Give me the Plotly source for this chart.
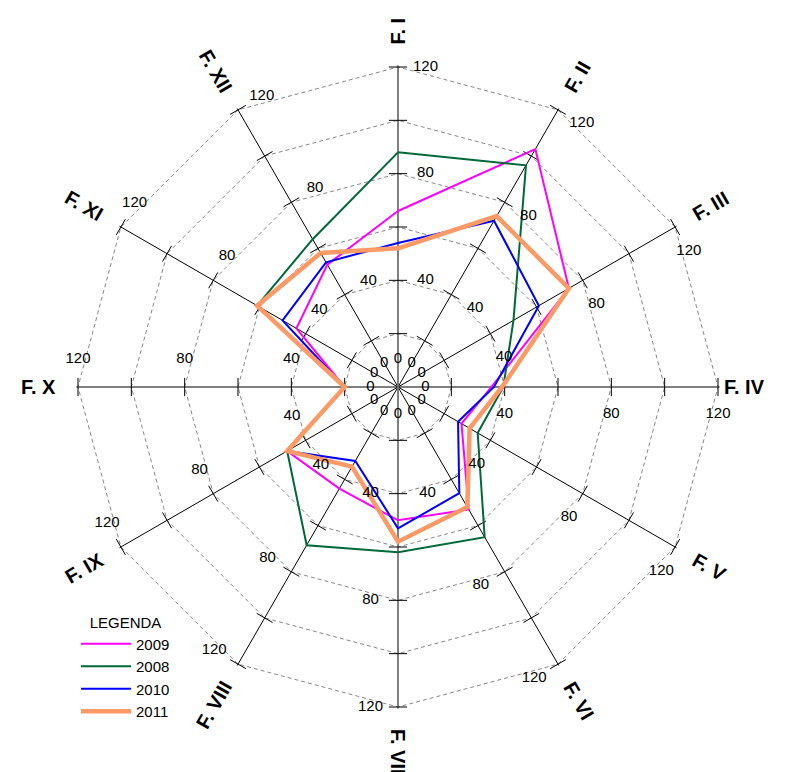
import math
import plotly.graph_objects as go

# Factors around the radar, clockwise from the top
categories = ['F. I', 'F. II', 'F. III', 'F. IV', 'F. V', 'F. VI',
              'F. VII', 'F. VIII', 'F. IX', 'F. X', 'F. XI', 'F. XII']
angles = [i * 360 / len(categories) for i in range(len(categories))]

values_2009 = [66, 103, 74, 35, 27.5, 53, 50, 44, 48, 20, 44, 53]
values_2008 = [88, 96, 50, 39.5, 34.5, 65, 62, 68.5, 48, 20, 61, 64]
values_2010 = [54, 72, 61, 36, 26, 46, 53, 32, 48, 20, 50, 54]
values_2011 = [52, 74, 74, 39, 31, 52, 58, 34.5, 48, 20, 61, 58]

tick_marks = [20, 40, 60, 80, 100, 120]
tick_labels = [0, 40, 80, 120]

R_MAX = 120
R_AXIS = 120.6  # a hair past 120 so the outer dashed ring is drawn
FONT = 'Liberation Sans, Arial, sans-serif'

series = [
    ('2009', values_2009, '#FF00FF', 2),
    ('2008', values_2008, '#00693A', 2),
    ('2010', values_2010, '#0000FF', 2),
    ('2011', values_2011, '#FF9966', 4.5),
]

# page geometry in figure pixels (page body adds an 8px offset)
W, H = 787, 772
cx, cy = 390, 379
rad_px = 320 * R_AXIS / R_MAX
dom_x = [(cx - rad_px) / W, (cx + rad_px) / W]
dom_y = [(H - cy - rad_px) / H, (H - cy + rad_px) / H]

fig = go.Figure()

# gray vertical spoke (F. I - F. VII)
fig.add_trace(go.Scatterpolar(
    r=[R_MAX, 0, R_MAX], theta=[categories[0], categories[0], categories[6]],
    mode='lines', line=dict(color='#808080', width=1.6),
    showlegend=False, hoverinfo='skip', subplot='polar'
))

# small tick marks across every spoke
tr, tt, ta = [], [], []
for cat, a in zip(categories, angles):
    for v in tick_marks:
        tr.append(v)
        tt.append(cat)
        ta.append(a)
fig.add_trace(go.Scatterpolar(
    r=tr, theta=tt, mode='markers',
    marker=dict(symbol='line-ew', size=13, angle=ta,
                line=dict(color='black', width=1)),
    showlegend=False, hoverinfo='skip', subplot='polar'
))

for name, vals, color, width in series:
    fig.add_trace(go.Scatterpolar(
        r=vals + vals[:1],
        theta=categories + categories[:1],
        mode='lines',
        name=name,
        line=dict(color=color, width=width),
        subplot='polar'
    ))

# tick labels, offset to the clockwise side of each spoke (numeric overlay)
d = 10.3
lr, lt, ltxt = [], [], []
for a in angles:
    for v in tick_labels:
        lr.append(math.hypot(v, d))
        lt.append(a + math.degrees(math.atan2(d, v)))
        ltxt.append(str(v))
fig.add_trace(go.Scatterpolar(
    r=lr, theta=lt, mode='text', text=ltxt,
    textposition='middle center',
    textfont=dict(family=FONT, size=15, color='black'),
    showlegend=False, hoverinfo='skip', subplot='polar2'
))

# rotated factor labels around the outside
cw = {'F': 12.2, '.': 5.6, ' ': 5.6, 'I': 5.6, 'V': 13.3, 'X': 13.3}
near = {'F. IV': 325}
annotations = []
for cat, a in zip(categories, angles):
    rad = math.radians(a)
    rot = a - 90 if a <= 180 else a - 270
    w = sum(cw[ch] for ch in cat)
    rr = near.get(cat, 341) + w / 2
    annotations.append(dict(
        x=(cx + rr * math.sin(rad)) / W,
        y=(H - cy + rr * math.cos(rad)) / H,
        xref='paper', yref='paper', text='<b>' + cat + '</b>',
        showarrow=False, textangle=rot,
        font=dict(family=FONT, size=20, color='black'),
        xanchor='center', yanchor='middle'
    ))

fig.update_layout(
    width=W, height=H,
    margin=dict(l=0, r=0, t=0, b=0),
    paper_bgcolor='white',
    font=dict(family=FONT, color='black'),
    polar=dict(
        domain=dict(x=dom_x, y=dom_y),
        bgcolor='white',
        gridshape='linear',
        angularaxis=dict(
            type='category', categoryorder='array', categoryarray=categories,
            direction='clockwise', rotation=90,
            showticklabels=False, ticks='',
            showgrid=True, gridcolor='black', gridwidth=1,
            showline=False
        ),
        radialaxis=dict(
            range=[0, R_AXIS], tickvals=tick_marks,
            showticklabels=False, ticks='', showline=False,
            gridcolor='#888888', gridwidth=1, griddash='4px,3px',
            layer='below traces'
        )
    ),
    polar2=dict(
        domain=dict(x=dom_x, y=dom_y),
        bgcolor='rgba(0,0,0,0)',
        angularaxis=dict(type='linear', direction='clockwise', rotation=90,
                         visible=False),
        radialaxis=dict(range=[0, R_AXIS], visible=False)
    ),
    showlegend=True,
    legend=dict(
        title=dict(text='LEGENDA', side='top center',
                   font=dict(family=FONT, size=15)),
        font=dict(family=FONT, size=15),
        x=68 / W, y=(H - 600) / H, xanchor='left', yanchor='top',
        itemwidth=50,
        bgcolor='rgba(0,0,0,0)', tracegroupgap=0
    ),
    annotations=annotations
)

fig.write_html("out.html")
